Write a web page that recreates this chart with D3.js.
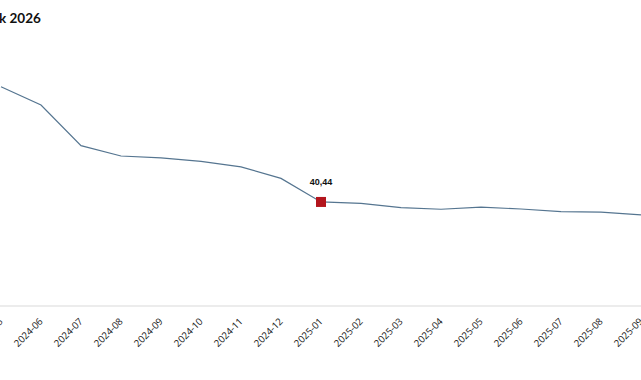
<!DOCTYPE html>
<html>
<head>
<meta charset="utf-8">
<script src="https://cdn.jsdelivr.net/npm/d3@7"></script>
<style>
  html, body { margin: 0; padding: 0; background: #fff; overflow: hidden; }
  svg { display: block; }
</style>
</head>
<body>
<script>
// ---- data ----
const months = ["2024-05","2024-06","2024-07","2024-08","2024-09","2024-10","2024-11","2024-12",
                "2025-01","2025-02","2025-03","2025-04","2025-05","2025-06","2025-07","2025-08","2025-09"];
const values = [85.2, 78.1, 62.3, 58.3, 57.6, 56.2, 54.1, 49.6,
                40.44, 39.9, 38.2, 37.6, 38.4, 37.7, 36.7, 36.5, 35.4];
const highlightMonth = "2025-01";
const highlightLabel = "40,44";
const titleText = "k 2026";

// ---- layout ----
const W = 641, H = 380;
const svg = d3.select("body").append("svg").attr("width", W).attr("height", H);

const x = d3.scalePoint().domain(months).range([1, 641]);
const y = d3.scaleLinear().domain([0, 100]).range([306, 48.7]);

// title
svg.append("text")
  .attr("x", -1).attr("y", 23)
  .attr("font-family", "Lato, 'Open Sans', sans-serif")
  .attr("font-weight", "bold")
  .attr("font-size", 13.5)
  .attr("fill", "#111")
  .text(titleText);

// x axis line
svg.append("line")
  .attr("x1", 0).attr("x2", W)
  .attr("y1", y(0)).attr("y2", y(0))
  .attr("stroke", "#d9d9d9").attr("stroke-width", 1);

// tick labels
const axis = d3.axisBottom(x).tickSize(0).tickPadding(0);
const gx = svg.append("g").attr("transform", `translate(0,${y(0)})`).call(axis);
gx.select(".domain").remove();
gx.selectAll(".tick text")
  .attr("font-family", "'Open Sans', sans-serif")
  .attr("font-size", 9.6)
  .attr("fill", "#1a1a1a")
  .attr("text-anchor", "end")
  .attr("dy", null)
  .attr("y", null)
  .attr("transform", "translate(2,16) rotate(-45)");

// line
const data = months.map((m, i) => ({ m, v: values[i] }));
svg.append("path")
  .datum(data)
  .attr("fill", "none")
  .attr("stroke", "#557590")
  .attr("stroke-width", 1.2)
  .attr("d", d3.line().x(d => x(d.m)).y(d => y(d.v)));

// highlight marker
const hv = values[months.indexOf(highlightMonth)];
const ms = 10;
svg.append("rect")
  .attr("x", x(highlightMonth) - ms / 2)
  .attr("y", y(hv) - ms / 2)
  .attr("width", ms).attr("height", ms)
  .attr("fill", "#b3151d");

svg.append("text")
  .attr("x", x(highlightMonth))
  .attr("y", y(hv) - 17)
  .attr("text-anchor", "middle")
  .attr("font-family", "'Liberation Sans', Arial, sans-serif")
  .attr("font-weight", "bold")
  .attr("font-size", 9)
  .attr("fill", "#111")
  .text(highlightLabel);
</script>
</body>
</html>
